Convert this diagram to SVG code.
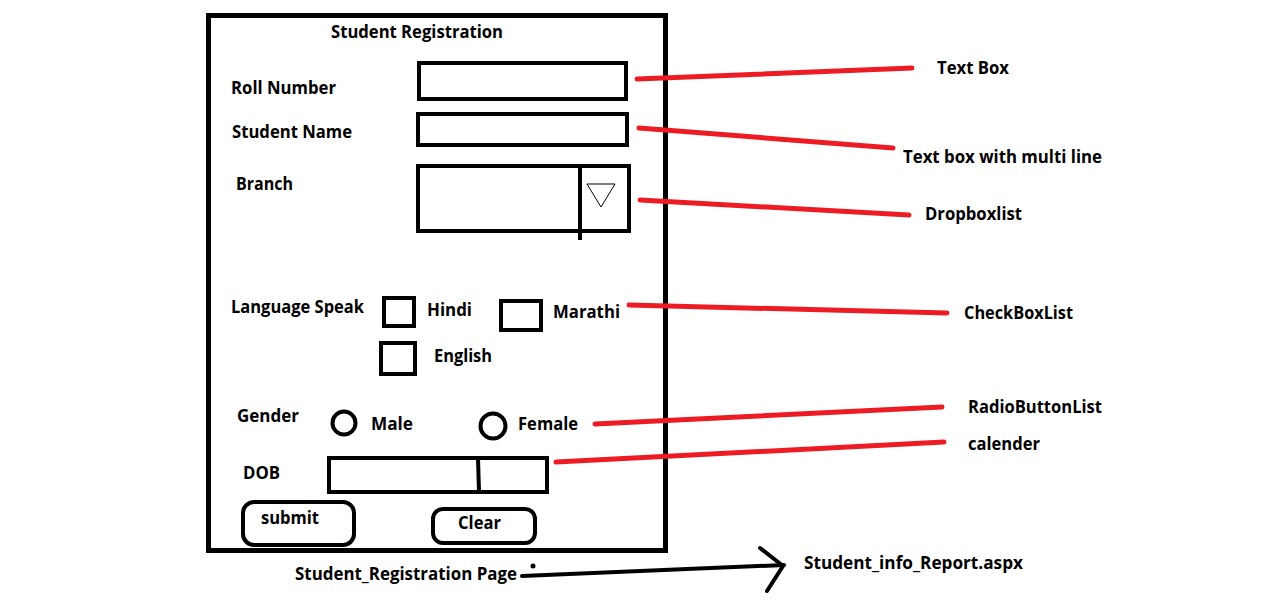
<svg xmlns="http://www.w3.org/2000/svg" width="1281" height="614" viewBox="0 0 1281 614">
<style>
text{font-family:"Open Sans","Liberation Sans",sans-serif;font-weight:bold;font-size:17px;fill:#000}
.box{fill:none;stroke:#000;stroke-width:4}
.red{stroke:#ed1c24;stroke-width:5;stroke-linecap:round;fill:none}
.blk{stroke:#000;stroke-width:4;stroke-linecap:round;fill:none}
</style>
<rect width="1281" height="614" fill="#fff"/>
<g id="form">
<rect x="208.5" y="15.5" width="457" height="535" fill="none" stroke="#000" stroke-width="5"/>
<text x="331" y="38" textLength="172" lengthAdjust="spacingAndGlyphs">Student Registration</text>
</g>
<g id="rollnumber">
<text x="231" y="94" textLength="105" lengthAdjust="spacingAndGlyphs">Roll Number</text>
<rect class="box" x="419" y="63" width="207" height="36"/>
</g>
<g id="studentname">
<text x="232" y="138" textLength="120" lengthAdjust="spacingAndGlyphs">Student Name</text>
<rect class="box" x="418" y="114" width="209" height="31"/>
</g>
<g id="branch">
<text x="236" y="190" textLength="57" lengthAdjust="spacingAndGlyphs">Branch</text>
<rect class="box" x="418" y="166" width="211" height="65"/>
<line x1="580" y1="166" x2="580" y2="240" stroke="#000" stroke-width="4"/>
<polygon points="587,184 615,184 601,207" fill="none" stroke="#000" stroke-width="1"/>
</g>
<g id="language">
<text x="231" y="313" textLength="133" lengthAdjust="spacingAndGlyphs">Language Speak</text>
<rect class="box" x="384" y="298" width="30" height="28"/>
<text x="427" y="316" textLength="45" lengthAdjust="spacingAndGlyphs">Hindi</text>
<rect class="box" x="501" y="301" width="40" height="29"/>
<text x="553" y="318" textLength="67" lengthAdjust="spacingAndGlyphs">Marathi</text>
<rect class="box" x="381" y="343" width="34" height="31"/>
<text x="434" y="362" textLength="58" lengthAdjust="spacingAndGlyphs">English</text>
</g>
<g id="gender">
<text x="237" y="422" textLength="62" lengthAdjust="spacingAndGlyphs">Gender</text>
<circle cx="344" cy="423" r="11.5" class="box"/>
<text x="371" y="430" textLength="42" lengthAdjust="spacingAndGlyphs">Male</text>
<circle cx="493" cy="426" r="12.5" class="box"/>
<text x="518" y="430" textLength="60" lengthAdjust="spacingAndGlyphs">Female</text>
</g>
<g id="dob">
<text x="243" y="479" textLength="37" lengthAdjust="spacingAndGlyphs">DOB</text>
<rect class="box" x="329" y="458" width="218" height="34"/>
<line x1="478" y1="458" x2="479" y2="492" stroke="#000" stroke-width="4"/>
</g>
<g id="submit">
<rect class="box" x="243" y="502" width="111" height="43" rx="11"/>
<text x="261" y="524" textLength="58" lengthAdjust="spacingAndGlyphs">submit</text>
</g>
<g id="clear">
<rect class="box" x="433" y="509" width="102" height="34" rx="10"/>
<text x="458" y="529" textLength="43" lengthAdjust="spacingAndGlyphs">Clear</text>
</g>
<g id="labels">
<text x="937" y="74" textLength="72" lengthAdjust="spacingAndGlyphs">Text Box</text>
<text x="903" y="163" textLength="199" lengthAdjust="spacingAndGlyphs">Text box with multi line</text>
<text x="925" y="220" textLength="97" lengthAdjust="spacingAndGlyphs">Dropboxlist</text>
<text x="964" y="319" textLength="109" lengthAdjust="spacingAndGlyphs">CheckBoxList</text>
<text x="968" y="413" textLength="134" lengthAdjust="spacingAndGlyphs">RadioButtonList</text>
<text x="968" y="450" textLength="72" lengthAdjust="spacingAndGlyphs">calender</text>
<text x="295" y="580" textLength="222" lengthAdjust="spacingAndGlyphs">Student_Registration Page</text>
<text x="804" y="569" textLength="219" lengthAdjust="spacingAndGlyphs">Student_info_Report.aspx</text>
</g>
<g id="connectors">
<line class="red" x1="637" y1="79" x2="912" y2="68"/>
<line class="red" x1="639" y1="128" x2="893" y2="148"/>
<line class="red" x1="640" y1="200" x2="909" y2="215"/>
<line class="red" x1="629" y1="305" x2="947" y2="313"/>
<line class="red" x1="595" y1="424" x2="942" y2="407"/>
<line class="red" x1="556" y1="462" x2="944" y2="442"/>
<circle cx="533" cy="566" r="2.5" fill="#000"/>
<line class="blk" x1="522" y1="576" x2="784" y2="565"/>
<polyline class="blk" points="760,548 783,566 767,591"/>
</g>
</svg>
